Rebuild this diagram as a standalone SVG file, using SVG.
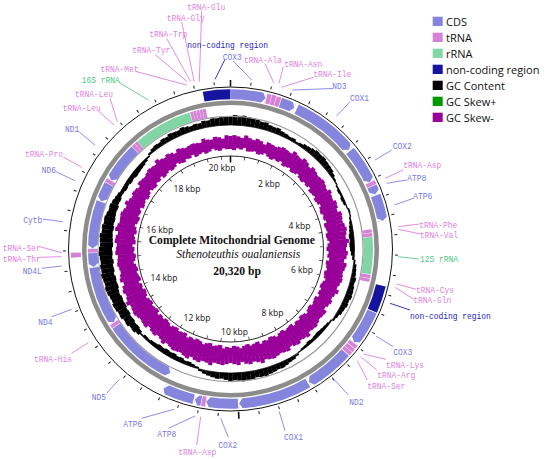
<svg xmlns="http://www.w3.org/2000/svg" width="550" height="459" viewBox="0 0 550 459">
<style>
.lbl{font-family:"Liberation Mono","DejaVu Sans Mono",monospace;font-size:9.5px}
.c{fill:#7878e0}.t{fill:#e07fe0}.r{fill:#4cc884}.n{fill:#2222bb}
.ar{fill:none}
.ob{stroke-width:10}.ib{stroke-width:9.5}
.sc{stroke:#8585dd}.st{stroke:#d682d6}.sr{stroke:#82d6a6}.sn{stroke:#14149e}
.lc{stroke:#8080e8}.lt{stroke:#e07fe0}.lr{stroke:#5cc98a}.ln{stroke:#2020c0}
.kb{font-family:"Open Sans","Liberation Sans",sans-serif;font-size:8.5px;fill:#111;text-anchor:middle}
.lg{font-family:"Open Sans","Liberation Sans",sans-serif;font-size:11px;fill:#111}
.ctr{font-family:"Liberation Serif","Times New Roman",serif;font-size:11.6px;fill:#111;text-anchor:middle}
.gk line{stroke:#000;stroke-width:4.6}
.gs line{stroke:#990099;stroke-width:4.2}
</style>
<defs>
<polygon id="acw" points="226.8,88.9 230.5,88.9 230.5,99.7 226.8,99.7 230.5,94.3" fill="#fff"/>
<polygon id="accw" points="234.2,106.2 230.5,106.2 230.5,116.2 234.2,116.2 230.5,111.25" fill="#fff"/>
</defs>

<!-- GC content (black) -->
<g id="gc-content" class="gk" transform="translate(230.5 249)">
<circle r="124" fill="none" stroke="#000" stroke-width="0.7"/>
<line y1="-124" y2="-133"/>
<line y1="-124" y2="-134" transform="rotate(2)"/>
<line y1="-124" y2="-133.5" transform="rotate(4)"/>
<line y1="-124" y2="-134" transform="rotate(6)"/>
<line y1="-124" y2="-133" transform="rotate(8)"/>
<line y1="-124" y2="-132.5" transform="rotate(10)"/>
<line y1="-124" y2="-132" transform="rotate(12)"/>
<line y1="-124" y2="-131" transform="rotate(14)"/>
<line y1="-124" y2="-131.5" transform="rotate(16)"/>
<line y1="-124" y2="-130" transform="rotate(18)"/>
<line y1="-124" y2="-129.5" transform="rotate(20)"/>
<line y1="-124" y2="-130" transform="rotate(22)"/>
<line y1="-124" y2="-128.5" transform="rotate(24)"/>
<line y1="-124" y2="-128" transform="rotate(26)"/>
<line y1="-124" y2="-127" transform="rotate(28)"/>
<line y1="-124" y2="-127.5" transform="rotate(30)"/>
<line y1="-124" y2="-126" transform="rotate(32)"/>
<line y1="-124" y2="-127" transform="rotate(34)"/>
<line y1="-124" y2="-128.5" transform="rotate(36)"/>
<line y1="-124" y2="-129" transform="rotate(38)"/>
<line y1="-124" y2="-130" transform="rotate(40)"/>
<line y1="-124" y2="-131" transform="rotate(42)"/>
<line y1="-124" y2="-130.5" transform="rotate(44)"/>
<line y1="-124" y2="-131" transform="rotate(46)"/>
<line y1="-124" y2="-130" transform="rotate(48)"/>
<line y1="-124" y2="-129.5" transform="rotate(50)"/>
<line y1="-124" y2="-129" transform="rotate(52)"/>
<line y1="-124" y2="-127.5" transform="rotate(54)"/>
<line y1="-124" y2="-126" transform="rotate(56)"/>
<line y1="-124" y2="-125" transform="rotate(58)"/>
<line y1="-122.5" y2="-124" transform="rotate(60)"/>
<line y1="-121.5" y2="-124" transform="rotate(62)"/>
<line y1="-122" y2="-124" transform="rotate(64)"/>
<line y1="-121" y2="-124" transform="rotate(66)"/>
<line y1="-121.5" y2="-124" transform="rotate(68)"/>
<line y1="-123" y2="-124" transform="rotate(70)"/>
<line y1="-124" y2="-125.5" transform="rotate(72)"/>
<line y1="-124" y2="-125" transform="rotate(74)"/>
<line y1="-122.5" y2="-124" transform="rotate(76)"/>
<line y1="-121.5" y2="-124" transform="rotate(78)"/>
<line y1="-120.5" y2="-124" transform="rotate(80)"/>
<line y1="-120" y2="-124" transform="rotate(82)"/>
<line y1="-119" y2="-124" transform="rotate(84)"/>
<line y1="-119.5" y2="-124" transform="rotate(86)"/>
<line y1="-119" y2="-124" transform="rotate(88)"/>
<line y1="-119.5" y2="-124" transform="rotate(90)"/>
<line y1="-120.5" y2="-124" transform="rotate(92)"/>
<line y1="-122" y2="-124" transform="rotate(94)"/>
<line y1="-124" y2="-125.5" transform="rotate(96)"/>
<line y1="-124" y2="-127" transform="rotate(98)"/>
<line y1="-124" y2="-127.5" transform="rotate(100)"/>
<line y1="-124" y2="-128" transform="rotate(102)"/>
<line y1="-124" y2="-129" transform="rotate(104)"/>
<line y1="-124" y2="-128.5" transform="rotate(106)"/>
<line y1="-124" y2="-129.5" transform="rotate(108)"/>
<line y1="-124" y2="-130" transform="rotate(110)"/>
<line y1="-124" y2="-130.5" transform="rotate(112)"/>
<line y1="-124" y2="-129.5" transform="rotate(114)"/>
<line y1="-124" y2="-130" transform="rotate(116)"/>
<line y1="-124" y2="-129" transform="rotate(118)"/>
<line y1="-124" y2="-128.5" transform="rotate(120)"/>
<line y1="-124" y2="-127" transform="rotate(122)"/>
<line y1="-124" y2="-126" transform="rotate(124)"/>
<line y1="-122.5" y2="-124" transform="rotate(126)"/>
<line y1="-121.5" y2="-124" transform="rotate(128)"/>
<line y1="-121" y2="-124" transform="rotate(130)"/>
<line y1="-120.5" y2="-124" transform="rotate(132)"/>
<line y1="-120" y2="-124" transform="rotate(134)"/>
<line y1="-120.5" y2="-124" transform="rotate(136)"/>
<line y1="-121" y2="-124" transform="rotate(138)"/>
<line y1="-120.5" y2="-124" transform="rotate(140)"/>
<line y1="-121.5" y2="-124" transform="rotate(142)"/>
<line y1="-122" y2="-124" transform="rotate(144)"/>
<line y1="-123" y2="-124" transform="rotate(146)"/>
<line y1="-124" y2="-126" transform="rotate(148)"/>
<line y1="-124" y2="-127.5" transform="rotate(150)"/>
<line y1="-124" y2="-128" transform="rotate(152)"/>
<line y1="-124" y2="-129" transform="rotate(154)"/>
<line y1="-124" y2="-130" transform="rotate(156)"/>
<line y1="-124" y2="-129.5" transform="rotate(158)"/>
<line y1="-124" y2="-130.5" transform="rotate(160)"/>
<line y1="-124" y2="-131" transform="rotate(162)"/>
<line y1="-124" y2="-132" transform="rotate(164)"/>
<line y1="-124" y2="-131.5" transform="rotate(166)"/>
<line y1="-124" y2="-131" transform="rotate(168)"/>
<line y1="-124" y2="-132" transform="rotate(170)"/>
<line y1="-124" y2="-132.5" transform="rotate(172)"/>
<line y1="-124" y2="-133" transform="rotate(174)"/>
<line y1="-124" y2="-132" transform="rotate(176)"/>
<line y1="-124" y2="-131.5" transform="rotate(178)"/>
<line y1="-124" y2="-132" transform="rotate(180)"/>
<line y1="-124" y2="-131" transform="rotate(182)"/>
<line y1="-124" y2="-130" transform="rotate(184)"/>
<line y1="-124" y2="-130.5" transform="rotate(186)"/>
<line y1="-124" y2="-129.5" transform="rotate(188)"/>
<line y1="-124" y2="-128.5" transform="rotate(190)"/>
<line y1="-124" y2="-127.5" transform="rotate(192)"/>
<line y1="-124" y2="-126" transform="rotate(194)"/>
<line y1="-122" y2="-124" transform="rotate(196)"/>
<line y1="-121" y2="-124" transform="rotate(198)"/>
<line y1="-120" y2="-124" transform="rotate(200)"/>
<line y1="-120.5" y2="-124" transform="rotate(202)"/>
<line y1="-119" y2="-124" transform="rotate(204)"/>
<line y1="-119.5" y2="-124" transform="rotate(206)"/>
<line y1="-118.5" y2="-124" transform="rotate(208)"/>
<line y1="-119" y2="-124" transform="rotate(210)"/>
<line y1="-118.5" y2="-124" transform="rotate(212)"/>
<line y1="-119.5" y2="-124" transform="rotate(214)"/>
<line y1="-119" y2="-124" transform="rotate(216)"/>
<line y1="-120" y2="-124" transform="rotate(218)"/>
<line y1="-120.5" y2="-124" transform="rotate(220)"/>
<line y1="-121.5" y2="-124" transform="rotate(222)"/>
<line y1="-121" y2="-124" transform="rotate(224)"/>
<line y1="-122.5" y2="-124" transform="rotate(226)"/>
<line y1="-121" y2="-126" transform="rotate(228)"/>
<line y1="-120" y2="-127.5" transform="rotate(230)"/>
<line y1="-120.5" y2="-127" transform="rotate(232)"/>
<line y1="-119.5" y2="-128.5" transform="rotate(234)"/>
<line y1="-120" y2="-128" transform="rotate(236)"/>
<line y1="-119" y2="-129.5" transform="rotate(238)"/>
<line y1="-119.5" y2="-129" transform="rotate(240)"/>
<line y1="-118.5" y2="-130" transform="rotate(242)"/>
<line y1="-119" y2="-130.5" transform="rotate(244)"/>
<line y1="-118.5" y2="-129.5" transform="rotate(246)"/>
<line y1="-119.5" y2="-130" transform="rotate(248)"/>
<line y1="-119" y2="-131" transform="rotate(250)"/>
<line y1="-118" y2="-131.5" transform="rotate(252)"/>
<line y1="-118.5" y2="-130.5" transform="rotate(254)"/>
<line y1="-118" y2="-131" transform="rotate(256)"/>
<line y1="-119" y2="-132" transform="rotate(258)"/>
<line y1="-118" y2="-131" transform="rotate(260)"/>
<line y1="-118.5" y2="-131.5" transform="rotate(262)"/>
<line y1="-117.5" y2="-130.5" transform="rotate(264)"/>
<line y1="-118.5" y2="-131" transform="rotate(266)"/>
<line y1="-118" y2="-132" transform="rotate(268)"/>
<line y1="-118.5" y2="-131.5" transform="rotate(270)"/>
<line y1="-117.5" y2="-130.5" transform="rotate(272)"/>
<line y1="-118" y2="-131" transform="rotate(274)"/>
<line y1="-118.5" y2="-131.5" transform="rotate(276)"/>
<line y1="-119" y2="-130" transform="rotate(278)"/>
<line y1="-118.5" y2="-130.5" transform="rotate(280)"/>
<line y1="-119.5" y2="-129.5" transform="rotate(282)"/>
<line y1="-119" y2="-130" transform="rotate(284)"/>
<line y1="-119.5" y2="-129" transform="rotate(286)"/>
<line y1="-120" y2="-128" transform="rotate(288)"/>
<line y1="-119.5" y2="-128.5" transform="rotate(290)"/>
<line y1="-120.5" y2="-127.5" transform="rotate(292)"/>
<line y1="-120" y2="-126.5" transform="rotate(294)"/>
<line y1="-121" y2="-125.5" transform="rotate(296)"/>
<line y1="-120.5" y2="-124" transform="rotate(298)"/>
<line y1="-119.5" y2="-124" transform="rotate(300)"/>
<line y1="-120" y2="-124" transform="rotate(302)"/>
<line y1="-119" y2="-124" transform="rotate(304)"/>
<line y1="-119.5" y2="-124" transform="rotate(306)"/>
<line y1="-118.5" y2="-124" transform="rotate(308)"/>
<line y1="-119" y2="-124" transform="rotate(310)"/>
<line y1="-119.5" y2="-124" transform="rotate(312)"/>
<line y1="-120" y2="-124" transform="rotate(314)"/>
<line y1="-121" y2="-124" transform="rotate(316)"/>
<line y1="-122.5" y2="-124" transform="rotate(318)"/>
<line y1="-124" y2="-126" transform="rotate(320)"/>
<line y1="-124" y2="-127.5" transform="rotate(322)"/>
<line y1="-124" y2="-128.5" transform="rotate(324)"/>
<line y1="-124" y2="-128" transform="rotate(326)"/>
<line y1="-124" y2="-129.5" transform="rotate(328)"/>
<line y1="-124" y2="-129" transform="rotate(330)"/>
<line y1="-124" y2="-130.5" transform="rotate(332)"/>
<line y1="-124" y2="-130" transform="rotate(334)"/>
<line y1="-124" y2="-129.5" transform="rotate(336)"/>
<line y1="-124" y2="-131" transform="rotate(338)"/>
<line y1="-124" y2="-130" transform="rotate(340)"/>
<line y1="-124" y2="-129" transform="rotate(342)"/>
<line y1="-124" y2="-130" transform="rotate(344)"/>
<line y1="-124" y2="-129.5" transform="rotate(346)"/>
<line y1="-124" y2="-131" transform="rotate(348)"/>
<line y1="-124" y2="-130.5" transform="rotate(350)"/>
<line y1="-124" y2="-132" transform="rotate(352)"/>
<line y1="-124" y2="-131.5" transform="rotate(354)"/>
<line y1="-124" y2="-132.5" transform="rotate(356)"/>
<line y1="-124" y2="-133" transform="rotate(358)"/>
</g>

<!-- GC skew (purple) -->
<g id="gc-skew" class="gs" transform="translate(230.5 249)">
<line y1="-100" y2="-113"/>
<line y1="-99" y2="-113.9" transform="rotate(2)"/>
<line y1="-101" y2="-112.8" transform="rotate(4)"/>
<line y1="-100" y2="-111.7" transform="rotate(6)"/>
<line y1="-102" y2="-114.6" transform="rotate(8)"/>
<line y1="-99" y2="-112.5" transform="rotate(10)"/>
<line y1="-99.5" y2="-111.4" transform="rotate(12)"/>
<line y1="-100.5" y2="-113.3" transform="rotate(14)"/>
<line y1="-98.5" y2="-112.2" transform="rotate(16)"/>
<line y1="-99.5" y2="-110.1" transform="rotate(18)"/>
<line y1="-101.5" y2="-113" transform="rotate(20)"/>
<line y1="-99.5" y2="-112.4" transform="rotate(22)"/>
<line y1="-98" y2="-111.8" transform="rotate(24)"/>
<line y1="-100" y2="-113.2" transform="rotate(26)"/>
<line y1="-99" y2="-114.6" transform="rotate(28)"/>
<line y1="-101" y2="-114" transform="rotate(30)"/>
<line y1="-98" y2="-113.4" transform="rotate(32)"/>
<line y1="-99" y2="-116.8" transform="rotate(34)"/>
<line y1="-100" y2="-115.2" transform="rotate(36)"/>
<line y1="-97.8" y2="-114.6" transform="rotate(38)"/>
<line y1="-98.7" y2="-117" transform="rotate(40)"/>
<line y1="-100.6" y2="-115.8" transform="rotate(42)"/>
<line y1="-98.5" y2="-113.6" transform="rotate(44)"/>
<line y1="-97.5" y2="-116.4" transform="rotate(46)"/>
<line y1="-99.4" y2="-115.2" transform="rotate(48)"/>
<line y1="-98.3" y2="-114" transform="rotate(50)"/>
<line y1="-100.2" y2="-114.8" transform="rotate(52)"/>
<line y1="-97.2" y2="-115.6" transform="rotate(54)"/>
<line y1="-98.1" y2="-114.4" transform="rotate(56)"/>
<line y1="-99" y2="-113.2" transform="rotate(58)"/>
<line y1="-97" y2="-116" transform="rotate(60)"/>
<line y1="-97.9" y2="-114.3" transform="rotate(62)"/>
<line y1="-99.9" y2="-113.6" transform="rotate(64)"/>
<line y1="-97.8" y2="-115.9" transform="rotate(66)"/>
<line y1="-96.7" y2="-115.2" transform="rotate(68)"/>
<line y1="-98.7" y2="-113.5" transform="rotate(70)"/>
<line y1="-97.6" y2="-116.8" transform="rotate(72)"/>
<line y1="-99.5" y2="-116.1" transform="rotate(74)"/>
<line y1="-96.5" y2="-115.4" transform="rotate(76)"/>
<line y1="-97.4" y2="-116.7" transform="rotate(78)"/>
<line y1="-98.3" y2="-118" transform="rotate(80)"/>
<line y1="-96.3" y2="-116.9" transform="rotate(82)"/>
<line y1="-97.2" y2="-115.8" transform="rotate(84)"/>
<line y1="-99.1" y2="-118.7" transform="rotate(86)"/>
<line y1="-97.1" y2="-116.6" transform="rotate(88)"/>
<line y1="-96" y2="-115.5" transform="rotate(90)"/>
<line y1="-98.1" y2="-117.4" transform="rotate(92)"/>
<line y1="-97.1" y2="-116.3" transform="rotate(94)"/>
<line y1="-99.2" y2="-114.2" transform="rotate(96)"/>
<line y1="-96.3" y2="-117.1" transform="rotate(98)"/>
<line y1="-97.3" y2="-116" transform="rotate(100)"/>
<line y1="-98.4" y2="-114.7" transform="rotate(102)"/>
<line y1="-96.5" y2="-115.4" transform="rotate(104)"/>
<line y1="-97.5" y2="-116.1" transform="rotate(106)"/>
<line y1="-99.6" y2="-114.8" transform="rotate(108)"/>
<line y1="-97.7" y2="-113.5" transform="rotate(110)"/>
<line y1="-96.7" y2="-116.2" transform="rotate(112)"/>
<line y1="-98.8" y2="-113.9" transform="rotate(114)"/>
<line y1="-97.9" y2="-112.6" transform="rotate(116)"/>
<line y1="-99.9" y2="-114.3" transform="rotate(118)"/>
<line y1="-97" y2="-113" transform="rotate(120)"/>
<line y1="-97.9" y2="-111.3" transform="rotate(122)"/>
<line y1="-98.9" y2="-114.6" transform="rotate(124)"/>
<line y1="-96.8" y2="-113.9" transform="rotate(126)"/>
<line y1="-97.7" y2="-113.2" transform="rotate(128)"/>
<line y1="-99.7" y2="-114.5" transform="rotate(130)"/>
<line y1="-97.6" y2="-115.8" transform="rotate(132)"/>
<line y1="-96.5" y2="-115.1" transform="rotate(134)"/>
<line y1="-98.5" y2="-114.4" transform="rotate(136)"/>
<line y1="-97.4" y2="-117.7" transform="rotate(138)"/>
<line y1="-99.3" y2="-116" transform="rotate(140)"/>
<line y1="-96.3" y2="-115.1" transform="rotate(142)"/>
<line y1="-97.2" y2="-117.2" transform="rotate(144)"/>
<line y1="-98.1" y2="-116.3" transform="rotate(146)"/>
<line y1="-96.1" y2="-114.4" transform="rotate(148)"/>
<line y1="-97" y2="-117.5" transform="rotate(150)"/>
<line y1="-99.1" y2="-116.6" transform="rotate(152)"/>
<line y1="-97.1" y2="-115.7" transform="rotate(154)"/>
<line y1="-96.2" y2="-116.8" transform="rotate(156)"/>
<line y1="-98.3" y2="-117.9" transform="rotate(158)"/>
<line y1="-97.3" y2="-117" transform="rotate(160)"/>
<line y1="-99.4" y2="-115.8" transform="rotate(162)"/>
<line y1="-96.5" y2="-118.6" transform="rotate(164)"/>
<line y1="-97.5" y2="-116.4" transform="rotate(166)"/>
<line y1="-98.6" y2="-115.2" transform="rotate(168)"/>
<line y1="-96.7" y2="-117" transform="rotate(170)"/>
<line y1="-97.7" y2="-115.8" transform="rotate(172)"/>
<line y1="-99.8" y2="-113.6" transform="rotate(174)"/>
<line y1="-97.9" y2="-116.4" transform="rotate(176)"/>
<line y1="-96.9" y2="-115.2" transform="rotate(178)"/>
<line y1="-99" y2="-114" transform="rotate(180)"/>
<line y1="-97.9" y2="-115.2" transform="rotate(182)"/>
<line y1="-99.7" y2="-116.4" transform="rotate(184)"/>
<line y1="-96.6" y2="-115.6" transform="rotate(186)"/>
<line y1="-97.5" y2="-114.8" transform="rotate(188)"/>
<line y1="-98.3" y2="-118" transform="rotate(190)"/>
<line y1="-96.2" y2="-116.2" transform="rotate(192)"/>
<line y1="-97.1" y2="-115.4" transform="rotate(194)"/>
<line y1="-98.9" y2="-117.6" transform="rotate(196)"/>
<line y1="-96.8" y2="-116.8" transform="rotate(198)"/>
<line y1="-95.7" y2="-115" transform="rotate(200)"/>
<line y1="-97.5" y2="-117.7" transform="rotate(202)"/>
<line y1="-96.4" y2="-116.4" transform="rotate(204)"/>
<line y1="-98.3" y2="-115.1" transform="rotate(206)"/>
<line y1="-95.1" y2="-115.8" transform="rotate(208)"/>
<line y1="-96" y2="-116.5" transform="rotate(210)"/>
<line y1="-96.9" y2="-115.2" transform="rotate(212)"/>
<line y1="-94.9" y2="-113.9" transform="rotate(214)"/>
<line y1="-95.8" y2="-116.6" transform="rotate(216)"/>
<line y1="-97.7" y2="-114.3" transform="rotate(218)"/>
<line y1="-95.7" y2="-113" transform="rotate(220)"/>
<line y1="-94.6" y2="-115.2" transform="rotate(222)"/>
<line y1="-96.5" y2="-114.4" transform="rotate(224)"/>
<line y1="-95.5" y2="-112.6" transform="rotate(226)"/>
<line y1="-97.4" y2="-115.8" transform="rotate(228)"/>
<line y1="-94.3" y2="-115" transform="rotate(230)"/>
<line y1="-95.3" y2="-114.2" transform="rotate(232)"/>
<line y1="-96.2" y2="-115.4" transform="rotate(234)"/>
<line y1="-94.1" y2="-116.6" transform="rotate(236)"/>
<line y1="-95.1" y2="-115.8" transform="rotate(238)"/>
<line y1="-97" y2="-115" transform="rotate(240)"/>
<line y1="-95.1" y2="-117.7" transform="rotate(242)"/>
<line y1="-94.1" y2="-115.4" transform="rotate(244)"/>
<line y1="-96.2" y2="-114.1" transform="rotate(246)"/>
<line y1="-95.3" y2="-115.8" transform="rotate(248)"/>
<line y1="-97.3" y2="-114.5" transform="rotate(250)"/>
<line y1="-94.4" y2="-112.2" transform="rotate(252)"/>
<line y1="-95.5" y2="-114.9" transform="rotate(254)"/>
<line y1="-96.5" y2="-113.6" transform="rotate(256)"/>
<line y1="-94.6" y2="-112.3" transform="rotate(258)"/>
<line y1="-95.7" y2="-113" transform="rotate(260)"/>
<line y1="-97.7" y2="-114.3" transform="rotate(262)"/>
<line y1="-95.8" y2="-113.6" transform="rotate(264)"/>
<line y1="-94.9" y2="-112.9" transform="rotate(266)"/>
<line y1="-96.9" y2="-115.2" transform="rotate(268)"/>
<line y1="-96" y2="-114.5" transform="rotate(270)"/>
<line y1="-98.1" y2="-113.8" transform="rotate(272)"/>
<line y1="-95.1" y2="-116.1" transform="rotate(274)"/>
<line y1="-96.2" y2="-115.4" transform="rotate(276)"/>
<line y1="-97.3" y2="-113.7" transform="rotate(278)"/>
<line y1="-95.3" y2="-117" transform="rotate(280)"/>
<line y1="-96.4" y2="-115.6" transform="rotate(282)"/>
<line y1="-98.5" y2="-114.2" transform="rotate(284)"/>
<line y1="-96.5" y2="-114.8" transform="rotate(286)"/>
<line y1="-95.6" y2="-115.4" transform="rotate(288)"/>
<line y1="-97.7" y2="-114" transform="rotate(290)"/>
<line y1="-96.7" y2="-112.6" transform="rotate(292)"/>
<line y1="-98.8" y2="-115.2" transform="rotate(294)"/>
<line y1="-95.9" y2="-112.8" transform="rotate(296)"/>
<line y1="-96.9" y2="-111.4" transform="rotate(298)"/>
<line y1="-98" y2="-113" transform="rotate(300)"/>
<line y1="-96.1" y2="-112.2" transform="rotate(302)"/>
<line y1="-97.3" y2="-110.4" transform="rotate(304)"/>
<line y1="-99.4" y2="-113.6" transform="rotate(306)"/>
<line y1="-97.5" y2="-112.8" transform="rotate(308)"/>
<line y1="-96.7" y2="-112" transform="rotate(310)"/>
<line y1="-98.8" y2="-113.2" transform="rotate(312)"/>
<line y1="-97.9" y2="-114.4" transform="rotate(314)"/>
<line y1="-100.1" y2="-113.6" transform="rotate(316)"/>
<line y1="-97.2" y2="-112.8" transform="rotate(318)"/>
<line y1="-98.3" y2="-116" transform="rotate(320)"/>
<line y1="-99.5" y2="-113.7" transform="rotate(322)"/>
<line y1="-97.6" y2="-112.4" transform="rotate(324)"/>
<line y1="-98.7" y2="-114.1" transform="rotate(326)"/>
<line y1="-100.9" y2="-112.8" transform="rotate(328)"/>
<line y1="-99" y2="-110.5" transform="rotate(330)"/>
<line y1="-98.1" y2="-113.2" transform="rotate(332)"/>
<line y1="-100.1" y2="-111.9" transform="rotate(334)"/>
<line y1="-99.2" y2="-110.6" transform="rotate(336)"/>
<line y1="-101.3" y2="-111.3" transform="rotate(338)"/>
<line y1="-98.3" y2="-112" transform="rotate(340)"/>
<line y1="-99.4" y2="-111.2" transform="rotate(342)"/>
<line y1="-100.5" y2="-110.4" transform="rotate(344)"/>
<line y1="-98.5" y2="-113.6" transform="rotate(346)"/>
<line y1="-99.6" y2="-111.8" transform="rotate(348)"/>
<line y1="-101.7" y2="-111" transform="rotate(350)"/>
<line y1="-99.7" y2="-113.2" transform="rotate(352)"/>
<line y1="-98.8" y2="-112.4" transform="rotate(354)"/>
<line y1="-100.9" y2="-110.6" transform="rotate(356)"/>
<line y1="-99.9" y2="-113.8" transform="rotate(358)"/>
</g>

<!-- rings and ticks -->
<g id="rings" fill="none">
<circle cx="230.5" cy="249" r="132.6" stroke="#9a9a9a" stroke-width="1.2"/>
<circle cx="230.5" cy="249" r="146.2" stroke="#8c8c8c" stroke-width="4.5"/>
<circle cx="230.5" cy="249" r="162" stroke="#111" stroke-width="1"/>
<circle cx="230.5" cy="249" r="93" stroke="#111" stroke-width="0.9"/>
<circle cx="230.5" cy="249" r="166" stroke="#222" stroke-width="3" pathLength="360" stroke-dasharray="0.35 6.737" transform="rotate(-90.175 230.5 249)"/>
<circle cx="230.5" cy="249" r="91.25" stroke="#222" stroke-width="3.5" pathLength="360" stroke-dasharray="0.45 8.408" transform="rotate(-90.225 230.5 249)"/>
<line x1="230.5" y1="80" x2="230.5" y2="86.5" stroke="#111" stroke-width="1.6"/>
<line x1="238.55" y1="411.8" x2="238.9" y2="418.8" stroke="#111" stroke-width="1.6"/>
<line x1="230.5" y1="156" x2="230.5" y2="162.5" stroke="#111" stroke-width="1.6"/>
</g>

<g id="kbp-labels">
<text class="kb" x="222" y="171">20 kbp</text>
<text class="kb" x="269" y="187">2 kbp</text>
<text class="kb" x="299.5" y="228.5">4 kbp</text>
<text class="kb" x="302" y="272.5">6 kbp</text>
<text class="kb" x="272.5" y="316">8 kbp</text>
<text class="kb" x="234.5" y="335">10 kbp</text>
<text class="kb" x="197" y="321">12 kbp</text>
<text class="kb" x="164" y="281">14 kbp</text>
<text class="kb" x="159.7" y="233">16 kbp</text>
<text class="kb" x="187" y="192">18 kbp</text>
</g>

<g id="title">
<text class="ctr" x="231.8" y="244" font-weight="bold">Complete Mitochondrial Genome</text>
<text class="ctr" x="238.3" y="258" font-style="italic">Sthenoteuthis oualaniensis</text>
<text class="ctr" x="237" y="274.5" font-weight="bold">20,320 bp</text>
</g>

<!-- connectors -->
<g id="connectors" stroke-width="0.9">
<line class="lt" x1="201.7" y1="11" x2="199.3" y2="81.7"/>
<line class="lt" x1="181.7" y1="22" x2="194.3" y2="81.7"/>
<line class="lt" x1="166.7" y1="38.5" x2="190.7" y2="81.7"/>
<line class="lt" x1="155" y1="54.5" x2="187.3" y2="81.7"/>
<line class="lt" x1="136.7" y1="71.7" x2="186.7" y2="85"/>
<line class="lr" x1="118.3" y1="82" x2="148.3" y2="100"/>
<line class="lt" x1="110" y1="98" x2="117.3" y2="121.7"/>
<line class="lt" x1="98.3" y1="111" x2="114" y2="125"/>
<line class="lc" x1="79.3" y1="132" x2="95" y2="145"/>
<line class="lt" x1="63.3" y1="157" x2="81.7" y2="167.3"/>
<line class="lc" x1="56" y1="171.7" x2="75" y2="180.7"/>
<line class="lc" x1="42.7" y1="219" x2="62.7" y2="221.7"/>
<line class="lt" x1="40" y1="246.7" x2="61.7" y2="252.7"/>
<line class="lt" x1="40" y1="257.3" x2="61.7" y2="256.7"/>
<line class="lc" x1="41.7" y1="268.3" x2="61.7" y2="266"/>
<line class="lc" x1="51.7" y1="316.7" x2="71.7" y2="309.3"/>
<line class="lt" x1="71.7" y1="353.3" x2="88.3" y2="342.7"/>
<line class="lc" x1="106.7" y1="393.3" x2="119.3" y2="379.3"/>
<line class="lc" x1="141.7" y1="418.3" x2="174" y2="409.3"/>
<line class="lc" x1="168.3" y1="428.3" x2="195" y2="416"/>
<line class="lt" x1="196.7" y1="445" x2="200.7" y2="416.7"/>
<line class="lc" x1="228.3" y1="437.3" x2="220.7" y2="418.3"/>
<line class="lc" x1="285" y1="430.7" x2="279.3" y2="411.7"/>
<line class="lc" x1="348.3" y1="395" x2="331.7" y2="376.7"/>
<line class="lt" x1="367.3" y1="380" x2="357.3" y2="360.7"/>
<line class="lt" x1="376.7" y1="370" x2="360.7" y2="356.7"/>
<line class="lt" x1="386" y1="359.3" x2="363.3" y2="354"/>
<line class="lc" x1="393.3" y1="346.7" x2="376" y2="336"/>
<line class="ln" x1="410" y1="310" x2="390" y2="303.3"/>
<line class="lt" x1="413.3" y1="299" x2="395" y2="287.3"/>
<line class="lt" x1="416" y1="289.3" x2="396.7" y2="284"/>
<line class="lr" x1="419.3" y1="259" x2="398.3" y2="256.7"/>
<line class="lt" x1="420.7" y1="234" x2="398.3" y2="229.3"/>
<line class="lt" x1="419.3" y1="224" x2="398.3" y2="226.7"/>
<line class="lc" x1="413.3" y1="198.3" x2="394.3" y2="205"/>
<line class="lc" x1="406.7" y1="180" x2="386.7" y2="183.3"/>
<line class="lt" x1="403.3" y1="170" x2="385" y2="178.3"/>
<line class="lc" x1="391.7" y1="150" x2="375" y2="160"/>
<line class="lc" x1="350" y1="101.7" x2="336.7" y2="116"/>
<line class="lc" x1="333" y1="88.5" x2="292.5" y2="90"/>
<line class="lt" x1="313.3" y1="77.3" x2="281.7" y2="87.3"/>
<line class="lt" x1="283.3" y1="66.7" x2="279" y2="83.3"/>
<line class="lt" x1="265" y1="63.3" x2="274" y2="83.3"/>
<line class="lc" x1="233.3" y1="61" x2="251.7" y2="80"/>
<line class="ln" x1="225" y1="59.3" x2="215" y2="79.3"/>
</g>

<!-- outer strand features -->
<g id="nc-1"><circle class="ar ob sn" cx="230.5" cy="249" r="154.7" pathLength="360" stroke-dasharray="10 360" transform="rotate(260 230.5 249)"/><text class="lbl n" x="187.3" y="48.3" textLength="80.75" lengthAdjust="spacingAndGlyphs">non-coding region</text></g>
<g id="cox3-a"><circle class="ar ob sc" cx="230.5" cy="249" r="154.7" pathLength="360" stroke-dasharray="12.9 360" transform="rotate(-89.8 230.5 249)"/><use href="#acw" transform="rotate(13.1 230.5 249)"/><text class="lbl c" x="222.7" y="59.5" textLength="19" lengthAdjust="spacingAndGlyphs">COX3</text></g>
<g id="trna-ala"><circle class="ar ob st" cx="230.5" cy="249" r="154.7" pathLength="360" stroke-dasharray="1.6 360" transform="rotate(-76.6 230.5 249)"/><text class="lbl t" x="244" y="62.7" textLength="38" lengthAdjust="spacingAndGlyphs">tRNA-Ala</text></g>
<g id="trna-asn"><circle class="ar ob st" cx="230.5" cy="249" r="154.7" pathLength="360" stroke-dasharray="1.6 360" transform="rotate(-74.85 230.5 249)"/><text class="lbl t" x="284.3" y="66.7" textLength="38" lengthAdjust="spacingAndGlyphs">tRNA-Asn</text></g>
<g id="trna-ile"><circle class="ar ob st" cx="230.5" cy="249" r="154.7" pathLength="360" stroke-dasharray="1.7 360" transform="rotate(-73.1 230.5 249)"/><text class="lbl t" x="313.3" y="76.7" textLength="38" lengthAdjust="spacingAndGlyphs">tRNA-Ile</text></g>
<g id="nd3"><circle class="ar ob sc" cx="230.5" cy="249" r="154.7" pathLength="360" stroke-dasharray="5.5 360" transform="rotate(-71.2 230.5 249)"/><use href="#acw" transform="rotate(24.3 230.5 249)"/><text class="lbl c" x="332.3" y="89.3" textLength="14.3" lengthAdjust="spacingAndGlyphs">ND3</text></g>
<g id="cox1-a"><circle class="ar ob sc" cx="230.5" cy="249" r="154.7" pathLength="360" stroke-dasharray="24.7 360" transform="rotate(-64.7 230.5 249)"/><use href="#acw" transform="rotate(50 230.5 249)"/><text class="lbl c" x="350" y="100.7" textLength="19" lengthAdjust="spacingAndGlyphs">COX1</text></g>
<g id="cox2-a"><circle class="ar ob sc" cx="230.5" cy="249" r="154.7" pathLength="360" stroke-dasharray="13.7 360" transform="rotate(-39.4 230.5 249)"/><use href="#acw" transform="rotate(64.3 230.5 249)"/><text class="lbl c" x="392.7" y="149.3" textLength="19" lengthAdjust="spacingAndGlyphs">COX2</text></g>
<g id="trna-asp-a"><circle class="ar ob st" cx="230.5" cy="249" r="154.7" pathLength="360" stroke-dasharray="1.5 360" transform="rotate(-25.5 230.5 249)"/><text class="lbl t" x="403.3" y="168.3" textLength="38" lengthAdjust="spacingAndGlyphs">tRNA-Asp</text></g>
<g id="atp8-a"><circle class="ar ob sc" cx="230.5" cy="249" r="154.7" pathLength="360" stroke-dasharray="3.1 360" transform="rotate(-23.8 230.5 249)"/><use href="#acw" transform="rotate(69.3 230.5 249)"/><text class="lbl c" x="407.3" y="180.7" textLength="19" lengthAdjust="spacingAndGlyphs">ATP8</text></g>
<g id="atp6-a"><circle class="ar ob sc" cx="230.5" cy="249" r="154.7" pathLength="360" stroke-dasharray="9.7 360" transform="rotate(-20.2 230.5 249)"/><use href="#acw" transform="rotate(79.5 230.5 249)"/><text class="lbl c" x="413.3" y="199.3" textLength="19" lengthAdjust="spacingAndGlyphs">ATP6</text></g>
<g id="nc-2"><circle class="ar ob sn" cx="230.5" cy="249" r="154.7" pathLength="360" stroke-dasharray="9.9 360" transform="rotate(13.6 230.5 249)"/><text class="lbl n" x="410" y="319.3" textLength="80.75" lengthAdjust="spacingAndGlyphs">non-coding region</text></g>
<g id="cox3-b"><circle class="ar ob sc" cx="230.5" cy="249" r="154.7" pathLength="360" stroke-dasharray="13.2 360" transform="rotate(23.8 230.5 249)"/><use href="#acw" transform="rotate(127 230.5 249)"/><text class="lbl c" x="393.3" y="355" textLength="19" lengthAdjust="spacingAndGlyphs">COX3</text></g>
<g id="trna-lys"><circle class="ar ob st" cx="230.5" cy="249" r="154.7" pathLength="360" stroke-dasharray="1.4 360" transform="rotate(37.3 230.5 249)"/><text class="lbl t" x="386" y="367.7" textLength="38" lengthAdjust="spacingAndGlyphs">tRNA-Lys</text></g>
<g id="trna-arg"><circle class="ar ob st" cx="230.5" cy="249" r="154.7" pathLength="360" stroke-dasharray="1.4 360" transform="rotate(38.85 230.5 249)"/><text class="lbl t" x="377.3" y="378.3" textLength="38" lengthAdjust="spacingAndGlyphs">tRNA-Arg</text></g>
<g id="trna-ser-r"><circle class="ar ob st" cx="230.5" cy="249" r="154.7" pathLength="360" stroke-dasharray="1.4 360" transform="rotate(40.4 230.5 249)"/><text class="lbl t" x="367.3" y="389.3" textLength="38" lengthAdjust="spacingAndGlyphs">tRNA-Ser</text></g>
<g id="nd2"><circle class="ar ob sc" cx="230.5" cy="249" r="154.7" pathLength="360" stroke-dasharray="17.4 360" transform="rotate(42.1 230.5 249)"/><use href="#acw" transform="rotate(149.5 230.5 249)"/><text class="lbl c" x="349.3" y="405" textLength="14.3" lengthAdjust="spacingAndGlyphs">ND2</text></g>
<g id="cox1-b"><circle class="ar ob sc" cx="230.5" cy="249" r="154.7" pathLength="360" stroke-dasharray="26.8 360" transform="rotate(60 230.5 249)"/><use href="#acw" transform="rotate(176.8 230.5 249)"/><text class="lbl c" x="284" y="440" textLength="19" lengthAdjust="spacingAndGlyphs">COX1</text></g>
<g id="cox2-b"><circle class="ar ob sc" cx="230.5" cy="249" r="154.7" pathLength="360" stroke-dasharray="11.8 360" transform="rotate(87.2 230.5 249)"/><use href="#acw" transform="rotate(189 230.5 249)"/><text class="lbl c" x="218.3" y="447.7" textLength="19" lengthAdjust="spacingAndGlyphs">COX2</text></g>
<g id="trna-asp-b"><circle class="ar ob st" cx="230.5" cy="249" r="154.7" pathLength="360" stroke-dasharray="1.5 360" transform="rotate(99.2 230.5 249)"/><text class="lbl t" x="178.3" y="455" textLength="38" lengthAdjust="spacingAndGlyphs">tRNA-Asp</text></g>
<g id="atp8-b"><circle class="ar ob sc" cx="230.5" cy="249" r="154.7" pathLength="360" stroke-dasharray="2.4 360" transform="rotate(100.9 230.5 249)"/><use href="#acw" transform="rotate(193.3 230.5 249)"/><text class="lbl c" x="157.3" y="437.3" textLength="19" lengthAdjust="spacingAndGlyphs">ATP8</text></g>
<g id="atp6-b"><circle class="ar ob sc" cx="230.5" cy="249" r="154.7" pathLength="360" stroke-dasharray="11.8 360" transform="rotate(103.8 230.5 249)"/><use href="#acw" transform="rotate(205.6 230.5 249)"/><text class="lbl c" x="123.3" y="426.7" textLength="19" lengthAdjust="spacingAndGlyphs">ATP6</text></g>
<g id="trna-thr"><circle class="ar ob st" cx="230.5" cy="249" r="154.7" pathLength="360" stroke-dasharray="1.8 360" transform="rotate(176.9 230.5 249)"/><text class="lbl t" x="2.7" y="261.7" textLength="38" lengthAdjust="spacingAndGlyphs">tRNA-Thr</text></g>

<!-- inner strand features -->
<g id="trna-phe"><circle class="ar ib st" cx="230.5" cy="249" r="137.75" pathLength="360" stroke-dasharray="1.4 360" transform="rotate(-8 230.5 249)"/><text class="lbl t" x="419.3" y="228.3" textLength="38" lengthAdjust="spacingAndGlyphs">tRNA-Phe</text></g>
<g id="trna-val"><circle class="ar ib st" cx="230.5" cy="249" r="137.75" pathLength="360" stroke-dasharray="1.4 360" transform="rotate(-6.45 230.5 249)"/><text class="lbl t" x="420" y="238.3" textLength="38" lengthAdjust="spacingAndGlyphs">tRNA-Val</text></g>
<g id="rrna-12s"><circle class="ar ib sr" cx="230.5" cy="249" r="137.75" pathLength="360" stroke-dasharray="15.2 360" transform="rotate(-4.9 230.5 249)"/><text class="lbl r" x="420" y="261.7" textLength="38" lengthAdjust="spacingAndGlyphs">12S rRNA</text></g>
<g id="trna-cys"><circle class="ar ib st" cx="230.5" cy="249" r="137.75" pathLength="360" stroke-dasharray="1.4 360" transform="rotate(10.5 230.5 249)"/><text class="lbl t" x="416" y="293.3" textLength="38" lengthAdjust="spacingAndGlyphs">tRNA-Cys</text></g>
<g id="trna-gln"><circle class="ar ib st" cx="230.5" cy="249" r="137.75" pathLength="360" stroke-dasharray="1.4 360" transform="rotate(12.05 230.5 249)"/><text class="lbl t" x="413.3" y="303.3" textLength="38" lengthAdjust="spacingAndGlyphs">tRNA-Gln</text></g>
<g id="nd5"><circle class="ar ib sc" cx="230.5" cy="249" r="137.75" pathLength="360" stroke-dasharray="30 360" transform="rotate(116 230.5 249)"/><use href="#accw" transform="rotate(206 230.5 249)"/><text class="lbl c" x="91.7" y="400" textLength="14.3" lengthAdjust="spacingAndGlyphs">ND5</text></g>
<g id="trna-his"><circle class="ar ib st" cx="230.5" cy="249" r="137.75" pathLength="360" stroke-dasharray="1.5 360" transform="rotate(146.2 230.5 249)"/><text class="lbl t" x="34" y="361.7" textLength="38" lengthAdjust="spacingAndGlyphs">tRNA-His</text></g>
<g id="nd4"><circle class="ar ib sc" cx="230.5" cy="249" r="137.75" pathLength="360" stroke-dasharray="24.4 360" transform="rotate(147.9 230.5 249)"/><use href="#accw" transform="rotate(237.9 230.5 249)"/><text class="lbl c" x="38.3" y="325" textLength="14.3" lengthAdjust="spacingAndGlyphs">ND4</text></g>
<g id="nd4l"><circle class="ar ib sc" cx="230.5" cy="249" r="137.75" pathLength="360" stroke-dasharray="5.8 360" transform="rotate(172.5 230.5 249)"/><use href="#accw" transform="rotate(262.5 230.5 249)"/><text class="lbl c" x="22.7" y="274" textLength="19" lengthAdjust="spacingAndGlyphs">ND4L</text></g>
<g id="trna-ser-l"><circle class="ar ib st" cx="230.5" cy="249" r="137.75" pathLength="360" stroke-dasharray="1.5 360" transform="rotate(178.5 230.5 249)"/><text class="lbl t" x="2.7" y="250.7" textLength="38" lengthAdjust="spacingAndGlyphs">tRNA-Ser</text></g>
<g id="cytb"><circle class="ar ib sc" cx="230.5" cy="249" r="137.75" pathLength="360" stroke-dasharray="19.8 360" transform="rotate(180.2 230.5 249)"/><use href="#accw" transform="rotate(270.2 230.5 249)"/><text class="lbl c" x="23.3" y="223.3" textLength="19" lengthAdjust="spacingAndGlyphs">Cytb</text></g>
<g id="nd6"><circle class="ar ib sc" cx="230.5" cy="249" r="137.75" pathLength="360" stroke-dasharray="7.7 360" transform="rotate(200.3 230.5 249)"/><use href="#accw" transform="rotate(290.3 230.5 249)"/><text class="lbl c" x="41.7" y="172.7" textLength="14.3" lengthAdjust="spacingAndGlyphs">ND6</text></g>
<g id="trna-pro"><circle class="ar ib st" cx="230.5" cy="249" r="137.75" pathLength="360" stroke-dasharray="1.6 360" transform="rotate(208.2 230.5 249)"/><text class="lbl t" x="25" y="156.7" textLength="38" lengthAdjust="spacingAndGlyphs">tRNA-Pro</text></g>
<g id="nd1"><circle class="ar ib sc" cx="230.5" cy="249" r="137.75" pathLength="360" stroke-dasharray="16 360" transform="rotate(210 230.5 249)"/><use href="#accw" transform="rotate(300 230.5 249)"/><text class="lbl c" x="65" y="131.7" textLength="14.3" lengthAdjust="spacingAndGlyphs">ND1</text></g>
<g id="trna-leu-1"><circle class="ar ib st" cx="230.5" cy="249" r="137.75" pathLength="360" stroke-dasharray="1.4 360" transform="rotate(226.2 230.5 249)"/><text class="lbl t" x="62.7" y="110.7" textLength="38" lengthAdjust="spacingAndGlyphs">tRNA-Leu</text></g>
<g id="trna-leu-2"><circle class="ar ib st" cx="230.5" cy="249" r="137.75" pathLength="360" stroke-dasharray="1.4 360" transform="rotate(227.7 230.5 249)"/><text class="lbl t" x="75" y="96.7" textLength="38" lengthAdjust="spacingAndGlyphs">tRNA-Leu</text></g>
<g id="rrna-16s"><circle class="ar ib sr" cx="230.5" cy="249" r="137.75" pathLength="360" stroke-dasharray="24.1 360" transform="rotate(229.2 230.5 249)"/><text class="lbl r" x="81.7" y="83.3" textLength="38" lengthAdjust="spacingAndGlyphs">16S rRNA</text></g>
<g id="trna-met"><circle class="ar ib st" cx="230.5" cy="249" r="137.75" pathLength="360" stroke-dasharray="1.2 360" transform="rotate(253.5 230.5 249)"/><text class="lbl t" x="100.5" y="72" textLength="38" lengthAdjust="spacingAndGlyphs">tRNA-Met</text></g>
<g id="trna-tyr"><circle class="ar ib st" cx="230.5" cy="249" r="137.75" pathLength="360" stroke-dasharray="1.2 360" transform="rotate(254.8 230.5 249)"/><text class="lbl t" x="132.3" y="53.3" textLength="38" lengthAdjust="spacingAndGlyphs">tRNA-Tyr</text></g>
<g id="trna-trp"><circle class="ar ib st" cx="230.5" cy="249" r="137.75" pathLength="360" stroke-dasharray="1.2 360" transform="rotate(256.1 230.5 249)"/><text class="lbl t" x="149.3" y="37.3" textLength="38" lengthAdjust="spacingAndGlyphs">tRNA-Trp</text></g>
<g id="trna-gly"><circle class="ar ib st" cx="230.5" cy="249" r="137.75" pathLength="360" stroke-dasharray="1.2 360" transform="rotate(257.4 230.5 249)"/><text class="lbl t" x="166.7" y="20.7" textLength="38" lengthAdjust="spacingAndGlyphs">tRNA-Gly</text></g>
<g id="trna-glu"><circle class="ar ib st" cx="230.5" cy="249" r="137.75" pathLength="360" stroke-dasharray="1.3 360" transform="rotate(258.7 230.5 249)"/><text class="lbl t" x="187.3" y="9.5" textLength="38" lengthAdjust="spacingAndGlyphs">tRNA-Glu</text></g>

<!-- legend -->
<g id="legend">
<rect x="432.7" y="16.7" width="10" height="9.3" fill="#8585dd"/><text class="lg" x="446" y="26">CDS</text>
<rect x="432.7" y="32.7" width="10" height="9.3" fill="#d682d6"/><text class="lg" x="446" y="42">tRNA</text>
<rect x="432.7" y="48.7" width="10" height="9.3" fill="#82d6a6"/><text class="lg" x="446" y="58">rRNA</text>
<rect x="432.7" y="64.7" width="10" height="9.3" fill="#14149e"/><text class="lg" x="446" y="74">non-coding region</text>
<rect x="432.7" y="80.7" width="10" height="9.3" fill="#000"/><text class="lg" x="446" y="90">GC Content</text>
<rect x="432.7" y="96.7" width="10" height="9.3" fill="#009900"/><text class="lg" x="446" y="106">GC Skew+</text>
<rect x="432.7" y="112.7" width="10" height="9.3" fill="#990099"/><text class="lg" x="446" y="122">GC Skew-</text>
</g>
</svg>
